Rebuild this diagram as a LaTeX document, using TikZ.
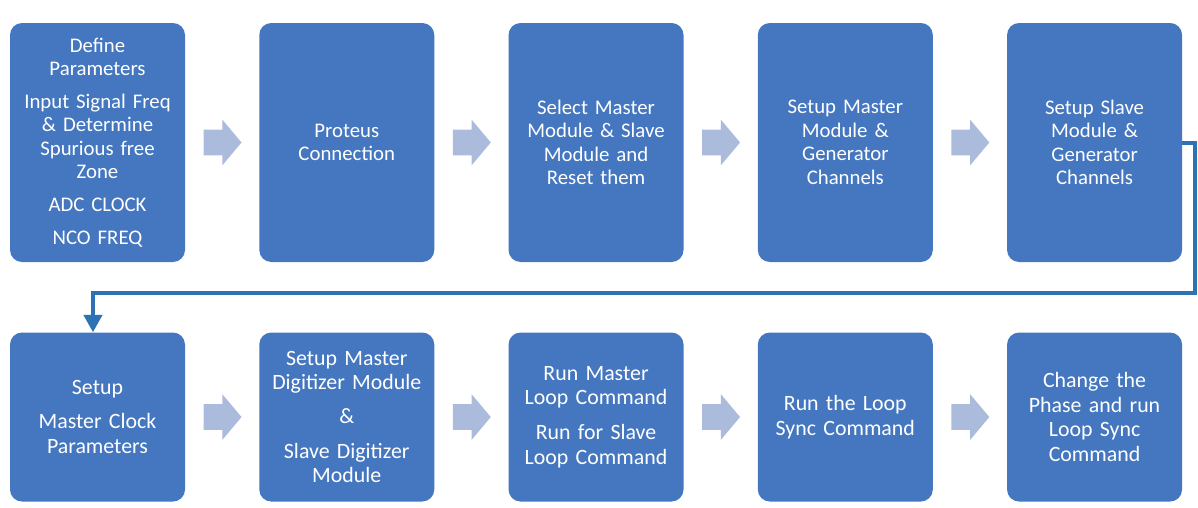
\documentclass[tikz,border=0pt]{standalone}
\usepackage{fontspec}
\setmainfont{Carlito}
\usetikzlibrary{arrows.meta, positioning, shapes.arrows, calc}
\definecolor{boxblue}{RGB}{68,119,191}
\definecolor{lineblue}{RGB}{46,114,182}
\definecolor{paleblue}{RGB}{170,187,220}

\begin{document}
\begin{tikzpicture}[x=0.75pt, y=-0.75pt, node distance=55.3pt,
  font=\fontsize{15.6}{17.6}\selectfont,
  box/.style={fill=boxblue, text=white, rounded corners=9pt, inner sep=2pt, text width=127.25pt, align=center},
  tall/.style={box, minimum height=179.25pt},
  short/.style={box, minimum height=126.75pt, font=\fontsize{16.4}{18.3}\selectfont},
  fat/.style={single arrow, fill=paleblue, inner xsep=0pt, inner ysep=9.4pt, minimum width=33.75pt, minimum height=28.5pt, single arrow head extend=7.5pt, single arrow tip angle=100, xshift=-3.75pt},
  conn/.style={draw=lineblue, line width=3pt, -{Triangle[width=13.5pt, length=13pt]}}]
  \useasboundingbox (0,0) rectangle (1198,507);
  \node[tall] (def) at (97.5,142.5) {Define\\Parameters\\[6.5pt]Input Signal Freq\\\& Determine\\Spurious free\\Zone\\[7pt]ADC CLOCK\\[7pt]NCO FREQ};
  \node[tall, right=of def] (prot) {Proteus\\Connection};
  \node[tall, right=of prot] (sel) {Select Master\\Module \& Slave\\Module and\\Reset them};
  \node[tall, right=of sel] (mset) {Setup Master\\Module \&\\Generator\\Channels};
  \node[tall, right=of mset] (sset) {Setup Slave\\Module \&\\Generator\\Channels};
  \node[short, below=52.5pt of def] (clk) {Setup\\[7pt]Master Clock\\Parameters};
  \node[short, right=of clk] (dig) {Setup Master\\Digitizer Module\\[7pt]\&\\[8pt]Slave Digitizer\\Module};
  \node[short, right=of dig] (run) {Run Master\\Loop Command\\[8pt]Run for Slave\\Loop Command};
  \node[short, right=of run] (sync) {Run the Loop\\Sync Command};
  \node[short, right=of sync] (phase) {Change the\\Phase and run\\Loop Sync\\Command};
  \foreach \u/\v in {def/prot, prot/sel, sel/mset, mset/sset, clk/dig, dig/run, run/sync, sync/phase}
    \node[fat] (ar-\u) at ($(\u.east)!0.5!(\v.west)$) {};
  \coordinate (bend) at (1195,293);
  \draw[conn] (sset.east) -| (bend) -| ([xshift=-3.4pt]clk.north);
\end{tikzpicture}
\end{document}
